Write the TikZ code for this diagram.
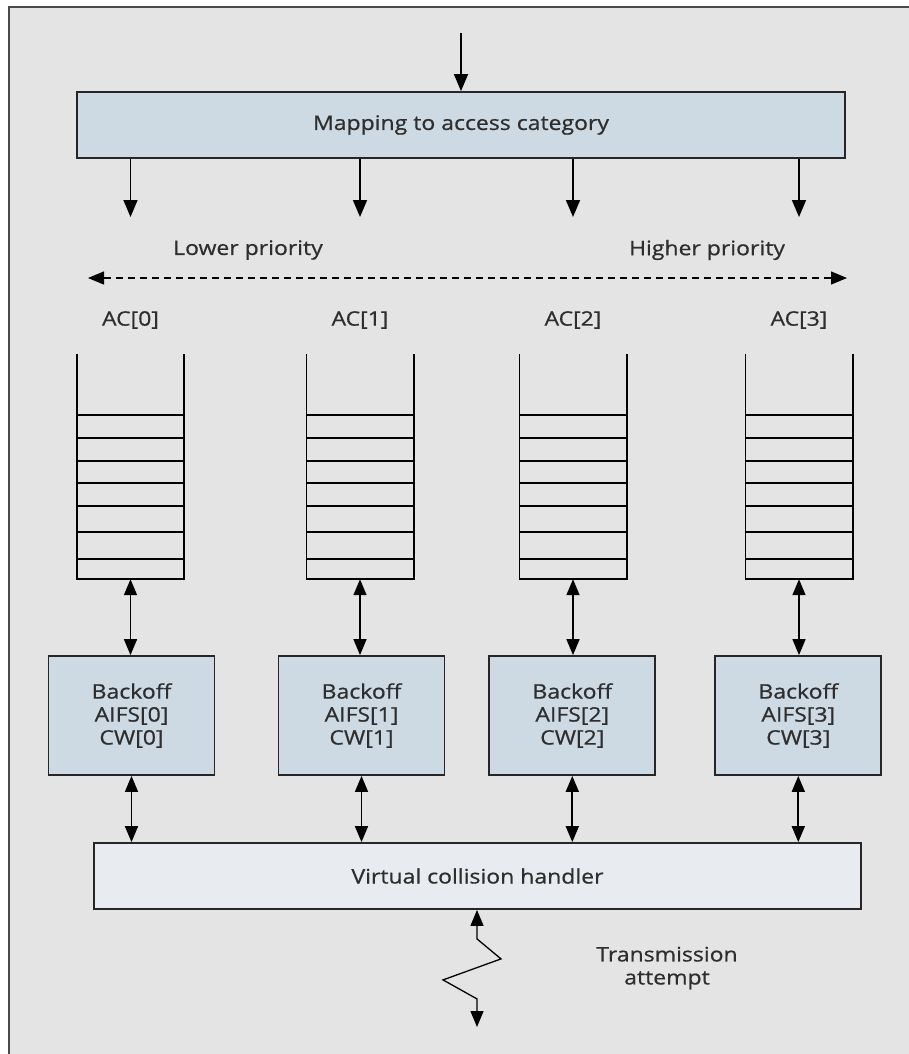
\documentclass[tikz,border=0pt]{standalone}
\usepackage{fontspec}
\setmainfont[FakeStretch=1.15,FakeBold=0.7]{Open Sans}
\usetikzlibrary{arrows.meta}
\definecolor{bg}{HTML}{E4E4E4}
\definecolor{boxfill}{HTML}{CDD9E3}
\definecolor{vchfill}{HTML}{E8EBEF}
\definecolor{ink}{HTML}{2E2E2E}
\definecolor{frameline}{HTML}{4A4A4A}
\begin{document}
\begin{tikzpicture}[x=1pt,y=-1pt,
  txt/.style={inner sep=0pt, text=ink, align=center, font=\fontsize{20}{23}\selectfont},
  blk/.style={draw=black!85, line width=1.8pt, inner sep=0pt, txt},
  queue/.style={inner sep=0pt, minimum width=107pt, minimum height=225pt},
  arr/.style={line width=1.7pt, -{Triangle[length=17pt,width=14pt]}},
  dbl/.style={line width=1.7pt, {Triangle[length=16pt,width=13pt]}-{Triangle[length=16pt,width=13pt]}},
  slot/.style={line width=1.6pt}
]
\useasboundingbox (0,0) rectangle (909,1054);
\fill[white] (0,0) rectangle (909,1054);
\fill[bg] (9,7) rectangle (909,1054);
\draw[frameline, line width=2.5pt] (9,1054) -- (9,7) -- (909,7);

% mapping stage
\node[blk, fill=boxfill, minimum width=768pt, minimum height=66pt] (map) at (461,125) {Mapping to access category};
\coordinate (in) at (461,33);
\draw[arr] (in) -- (map.north);

% priority scale
\node[txt] (lowtxt) at (248,250) {Lower priority};
\node[txt] (hightxt) at (707,250) {Higher priority};
\coordinate (lo) at (88,278);
\coordinate (hi) at (847,278);
\draw[line width=1.3pt, dash pattern=on 7pt off 5pt, {Triangle[length=16pt,width=13pt]}-{Triangle[length=16pt,width=13pt]}] (lo) -- (hi);

% queues, backoff entities and arrows
\foreach \i/\qx/\bx in {0/130.5/131.5, 1/360/361.5, 2/573/572.3, 3/799/798.3} {
  \node[txt] (ac\i) at (\qx,320) {AC[\i]};
  \node[queue] (q\i) at (\qx,466.5) {};
  \draw[slot] (q\i.north west) -- (q\i.south west) -- (q\i.south east) -- (q\i.north east);
  \foreach \y in {415,438,461,483,506,532,559}
    \draw[slot] (q\i.west |- 0,\y) -- (q\i.east |- 0,\y);
  \coordinate (d\i) at (\qx,217);
  \draw[arr] (map.south -| d\i) -- (d\i);
  \node[blk, fill=boxfill, minimum width=166pt, minimum height=119pt] (b\i) at (\bx,715.5)
    {Backoff\\AIFS[\i]\\CW[\i]};
  \draw[dbl] (q\i.south) -- (b\i.north -| q\i.south);
}

% virtual collision handler
\node[blk, fill=vchfill, minimum width=767pt, minimum height=66pt] (vch) at (477.5,876) {Virtual collision handler};
\foreach \i in {0,...,3}
  \draw[dbl] (b\i.south) -- (vch.north -| b\i.south);

% transmission attempt
\coordinate (tx) at (477,1027);
\draw[line width=1.3pt, {Triangle[length=16pt,width=13pt]}-{Triangle[length=16pt,width=13pt]}]
  (vch.south -| tx) -- ++(0,29) -- ++(24,20) -- ++(-58,21) -- ++(34,19) -- (tx);
\node[txt] (tatxt) at (667,968) {Transmission\\attempt};
\end{tikzpicture}
\end{document}
